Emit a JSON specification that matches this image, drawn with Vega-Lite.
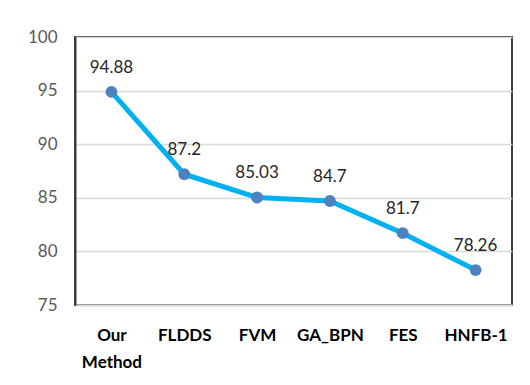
{
  "$schema": "https://vega.github.io/schema/vega-lite/v6.json",
  "width": 437,
  "height": 268,
  "autosize": {"type": "none"},
  "padding": {"left": 75, "top": 37, "right": 18, "bottom": 80},
  "background": "white",
  "config": {
    "font": "Lato",
    "view": {"stroke": "rgb(60,60,60)", "strokeWidth": 2}
  },
  "data": {
    "values": [
      {"method": "Our Method", "score": 94.88},
      {"method": "FLDDS", "score": 87.2},
      {"method": "FVM", "score": 85.03},
      {"method": "GA_BPN", "score": 84.7},
      {"method": "FES", "score": 81.7},
      {"method": "HNFB-1", "score": 78.26}
    ]
  },
  "encoding": {
    "x": {
      "field": "method",
      "type": "nominal",
      "sort": null,
      "scale": {"paddingInner": 0, "paddingOuter": 0},
      "axis": {
        "title": null,
        "labelAngle": 0,
        "labelFontSize": 17,
        "labelFontWeight": "bold",
        "labelColor": "#000000",
        "labelPadding": 22,
        "labelLineHeight": 27,
        "labelExpr": "datum.value == 'Our Method' ? ['Our', 'Method'] : datum.value",
        "ticks": false,
        "domainColor": "rgb(217,217,217)",
        "domainWidth": 2
      }
    },
    "y": {
      "field": "score",
      "type": "quantitative",
      "scale": {"domain": [75, 100], "nice": false, "zero": false},
      "axis": {
        "title": null,
        "values": [75, 80, 85, 90, 95, 100],
        "labelFontSize": 17,
        "labelColor": "#595959",
        "labelPadding": 18,
        "ticks": false,
        "domainColor": "rgb(60,60,60)",
        "domainWidth": 2,
        "gridColor": "#d9d9d9",
        "gridWidth": 1.5
      }
    }
  },
  "layer": [
    {"mark": {"type": "line", "color": "#00b0f0", "strokeWidth": 5}},
    {"mark": {"type": "point", "filled": true, "opacity": 1, "color": "#4f81bd", "size": 140}},
    {
      "mark": {"type": "text", "dy": -24, "fontSize": 17, "color": "#262626"},
      "encoding": {"text": {"field": "score", "type": "quantitative"}}
    }
  ]
}
